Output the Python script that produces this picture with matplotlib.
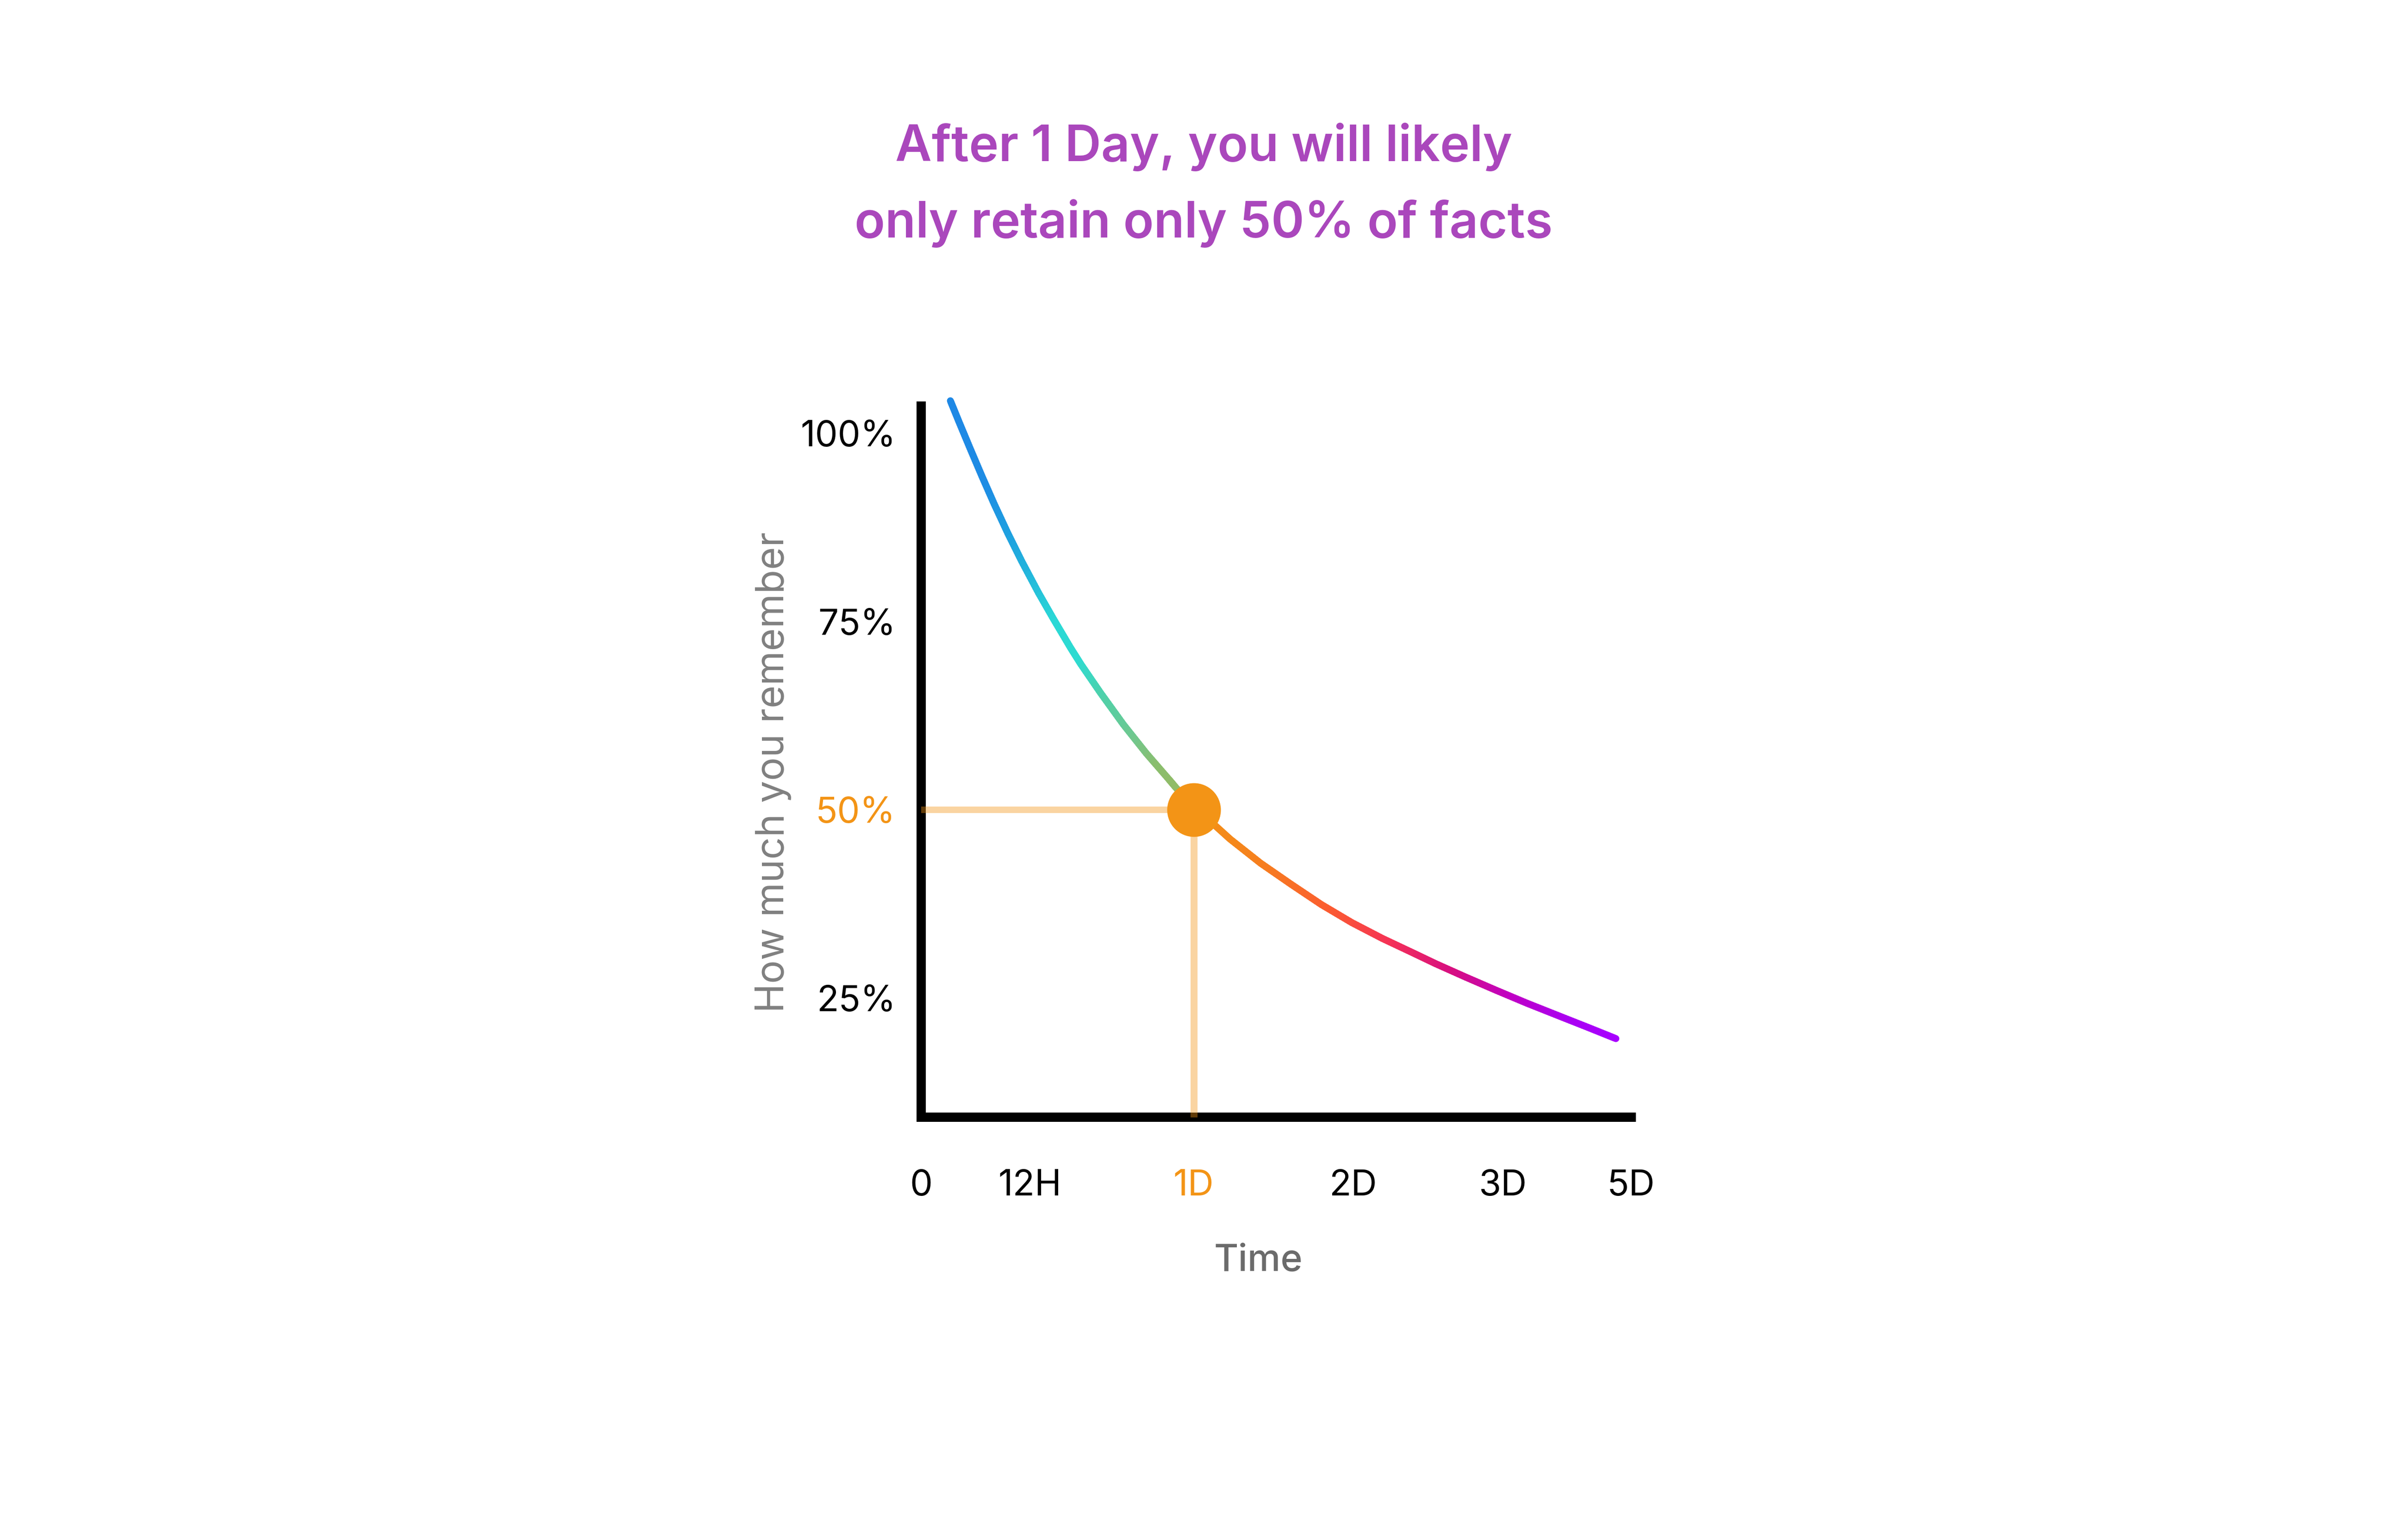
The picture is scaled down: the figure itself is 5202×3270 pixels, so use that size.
import numpy as np
import matplotlib
matplotlib.use("Agg")
import matplotlib.pyplot as plt
from matplotlib.collections import LineCollection
from matplotlib.colors import LinearSegmentedColormap

# ---------------- data ----------------
# x in "chart position" units (0 = origin, ticks placed as in the illustration)
time_pos = [0.207, 0.268, 0.346, 0.430, 0.517, 0.614, 0.712, 0.831, 0.938, 1.058,
            1.132, 1.271, 1.433, 1.594, 1.756, 1.801, 1.92,
            2.070, 2.188, 2.404, 2.620, 2.835, 3.051, 3.267, 3.482, 3.644,
            3.859, 4.075, 4.291, 4.506, 4.722, 4.921]
retention = [104.3, 101.5, 98.0, 94.3, 90.6, 86.7, 83.0, 78.8, 75.3, 71.5,
             69.3, 65.5, 61.3, 57.5, 54.0, 53.0, 50.5,
             48.1, 46.1, 42.9, 40.1, 37.4, 35.0, 32.9, 31.0, 29.55,
             27.75, 26.0, 24.3, 22.7, 21.1, 19.6]

x_tick_pos = [0, 0.77, 1.93, 3.06, 4.12, 5.03]
x_tick_labels = ["0", "12H", "1D", "2D", "3D", "5D"]
y_tick_vals = [25, 50, 75, 100]
y_tick_labels = ["25%", "50%", "75%", "100%"]

highlight_x = 1.93
highlight_y = 50

title_lines = ["After 1 Day, you will likely", "only retain only 50% of facts"]

# gradient colour stops along x
grad_pos = [0.21, 0.45, 0.60, 0.75, 0.94, 1.12, 1.30, 1.50, 1.67, 1.85, 1.93,
            2.40, 2.90, 3.33, 3.76, 4.20, 4.60, 4.92]
grad_col = ["#1e88e5", "#1e8ce4", "#1e9ee0", "#22b4dc", "#2ad8d6", "#2edbd0",
            "#50d0a8", "#6ec890", "#8abe6e", "#94bb64", "#f39416",
            "#f6801e", "#fb5d30", "#f53256", "#d8107f", "#c000c4", "#aa00f2", "#a800ff"]

ORANGE = "#f39416"
PURPLE = "#aa47bc"
FONT = ["Inter", "DejaVu Sans"]

W, H, DPI = 5202, 3270, 100
fig = plt.figure(figsize=(W / DPI, H / DPI), dpi=DPI)
fig.patch.set_facecolor("white")

def px(v):
    return v * 72.0 / DPI

ax = fig.add_axes([1990 / W, 1 - 2413 / H, (3524 - 1990) / W, (2413 - 877) / H])
ax.set_xlim(0, 4.96)
ax.set_ylim(9.16, 103.6)
ax.set_facecolor("none")

for s in ["top", "right"]:
    ax.spines[s].set_visible(False)
for s in ["left", "bottom"]:
    ax.spines[s].set_linewidth(px(20))
    ax.spines[s].set_color("black")
    ax.spines[s].set_capstyle("projecting")
    ax.spines[s].set_zorder(2)

# guide lines
ax.plot([0, highlight_x], [highlight_y, highlight_y], color=ORANGE, alpha=0.4,
        lw=px(14), solid_capstyle="butt", zorder=3, clip_on=False)
ax.plot([highlight_x, highlight_x], [9.16, highlight_y], color=ORANGE, alpha=0.4,
        lw=px(15), solid_capstyle="butt", zorder=3, clip_on=False)

# gradient curve
stops = [(p - grad_pos[0]) / (grad_pos[-1] - grad_pos[0]) for p in grad_pos]
cmap = LinearSegmentedColormap.from_list("grad", list(zip(stops, grad_col)))
xs = np.array(time_pos)
ys = np.array(retention)
segs, cvals = [], []
nsub = 12
for i in range(len(xs) - 1):
    for k in range(nsub):
        t0, t1 = k / nsub, (k + 1) / nsub
        xa = xs[i] + (xs[i + 1] - xs[i]) * t0
        xb = xs[i] + (xs[i + 1] - xs[i]) * t1
        ya = ys[i] + (ys[i + 1] - ys[i]) * t0
        yb = ys[i] + (ys[i + 1] - ys[i]) * t1
        segs.append([(xa, ya), (xb, yb)])
        cvals.append(((xa + xb) / 2 - grad_pos[0]) / (grad_pos[-1] - grad_pos[0]))
lc = LineCollection(segs, colors=[cmap(np.clip(c, 0, 1)) for c in cvals],
                    linewidths=px(15), capstyle="round", joinstyle="round",
                    zorder=4, clip_on=False)
ax.add_collection(lc)

# highlight dot
ax.plot([highlight_x], [highlight_y], "o", ms=px(116), color=ORANGE, mec="none",
        zorder=5, clip_on=False)

# ticks
ax.set_xticks(x_tick_pos)
ax.set_xticklabels(x_tick_labels)
ax.set_yticks(y_tick_vals)
ax.set_yticklabels(y_tick_labels)
ax.tick_params(axis="both", length=0)
ax.tick_params(axis="x", pad=px(112))
ax.tick_params(axis="y", pad=px(55))
for lab in ax.get_xticklabels() + ax.get_yticklabels():
    lab.set_fontfamily(FONT)
    lab.set_fontsize(56)
    lab.set_color("black")
    lab.set_fontweight("normal")
ax.get_xticklabels()[2].set_color(ORANGE)
ax.get_yticklabels()[1].set_color(ORANGE)

# axis labels
fig.text(2718 / W, 1 - 2745 / H, "Time", ha="center", va="baseline",
         fontsize=58, color="#6b6b6b", family=FONT, fontweight="medium")
fig.text(1693 / W, 1 - 1668 / H, "How much you remember", rotation=90,
         rotation_mode="anchor", ha="center", va="baseline",
         fontsize=61, color="#808080", family=FONT)

# title
fig.text(2600 / W, 1 - 348 / H, title_lines[0], ha="center", va="baseline",
         fontsize=78, color=PURPLE, family=FONT, fontweight="semibold")
fig.text(2600 / W, 1 - 513 / H, title_lines[1], ha="center", va="baseline",
         fontsize=78, color=PURPLE, family=FONT, fontweight="semibold")

fig.savefig("out.png", dpi=DPI, facecolor="white")
